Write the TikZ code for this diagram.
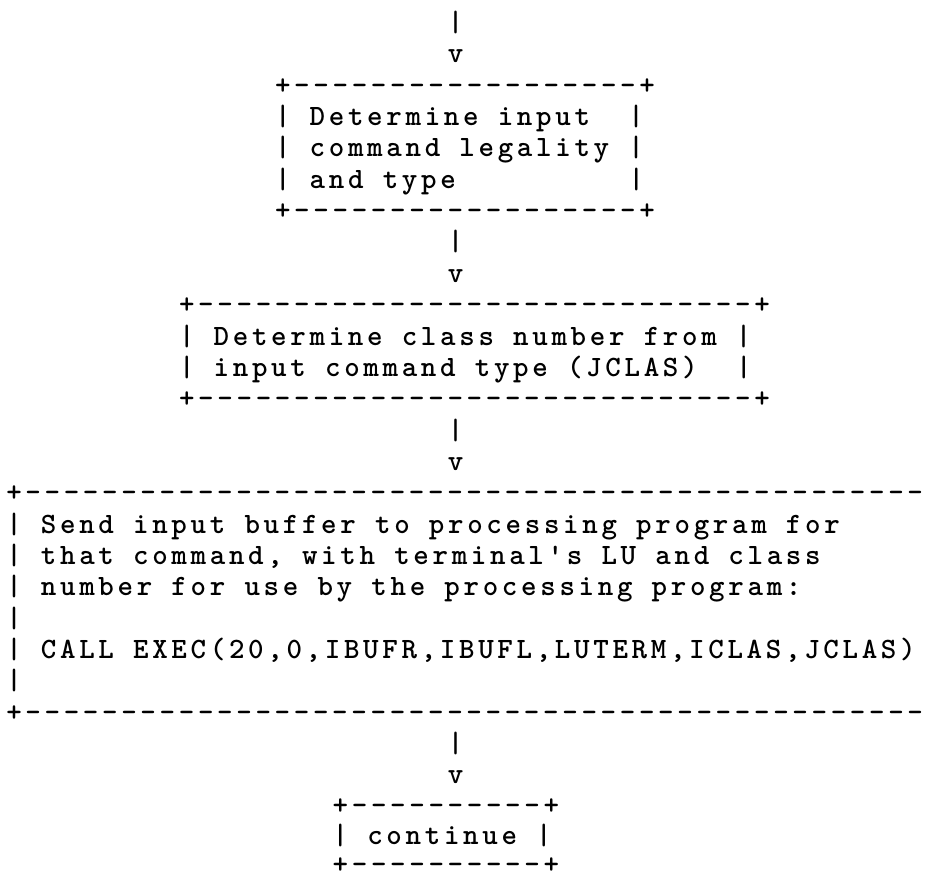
\documentclass[tikz,border=0pt]{standalone}
\usepackage{fontspec}
\setmonofont{lmmonolt10-bold.otf}[LetterSpace=12.5]
\newcommand\asciifix{\frenchspacing\fontdimen2\font=19.2pt\relax\fontdimen3\font=0pt\relax\fontdimen4\font=0pt\relax}
\tikzset{
  ascii/.style={font=\ttfamily\fontsize{29.5}{29.5}\selectfont\asciifix,
    inner sep=0pt, outer sep=0pt, anchor=base west, text=black},
}
% #1 extra options, #2 name, #3 column, #4 row, #5 text
\newcommand\asciirow[5][]{\node[ascii,#1] (#2) at ({6.25+19.2*#3},{-31.5-31.35*#4}) {#5};}
\begin{document}
\begin{tikzpicture}[x=1pt,y=1pt]
\path[use as bounding box, fill=white] (0,0) rectangle (936,-881);
\clip (0,0) rectangle (936,-881);
% entry arrow
\asciirow{inbar}{23}{0}{|}
\asciirow{inhead}{23}{1}{v}
% box 1
\asciirow{boxAtop}{14}{2}{+------------------+}
\asciirow{boxAa}{14}{3}{| Determine input~~|}
\asciirow{boxAb}{14}{4}{| command legality |}
\asciirow{boxAc}{14}{5}{| and type~~~~~~~~~|}
\asciirow{boxAbot}{14}{6}{+------------------+}
\asciirow{abbar}{23}{7}{|}
\asciirow{abhead}{23}{8}{v}
% box 2
\asciirow{boxBtop}{9}{9}{+-----------------------------+}
\asciirow{boxBa}{9}{10}{| Determine class number from |}
\asciirow{boxBb}{9}{11}{| input command type (JCLAS)~~|}
\asciirow{boxBbot}{9}{12}{+-----------------------------+}
\asciirow{bcbar}{23}{13}{|}
\asciirow{bchead}{23}{14}{v}
% box 3 (its right side runs off the page)
\asciirow{boxCtop}{0}{15}{+-----------------------------------------------}
\asciirow{boxCa}{0}{16}{| Send input buffer to processing program for}
\asciirow{boxCb}{0}{17}{| that command, with terminal's LU and class}
\asciirow{boxCc}{0}{18}{| number for use by the processing program:}
\asciirow{boxCd}{0}{19}{|}
\asciirow{boxCe}{0}{20}{| CALL EXEC(20,0,IBUFR,IBUFL,LUTERM,ICLAS,JCLAS)}
\asciirow{boxCf}{0}{21}{|}
\asciirow{boxCbot}{0}{22}{+-----------------------------------------------}
\asciirow{cdbar}{23}{23}{|}
\asciirow{cdhead}{23}{24}{v}
% box 4
\asciirow[yshift=1pt]{boxDtop}{17}{25}{+----------+}
\asciirow[yshift=2pt]{boxDa}{17}{26}{| continue |}
\asciirow[yshift=4pt,text depth=0pt]{boxDbot}{17}{27}{+----------+}
\end{tikzpicture}
\end{document}
